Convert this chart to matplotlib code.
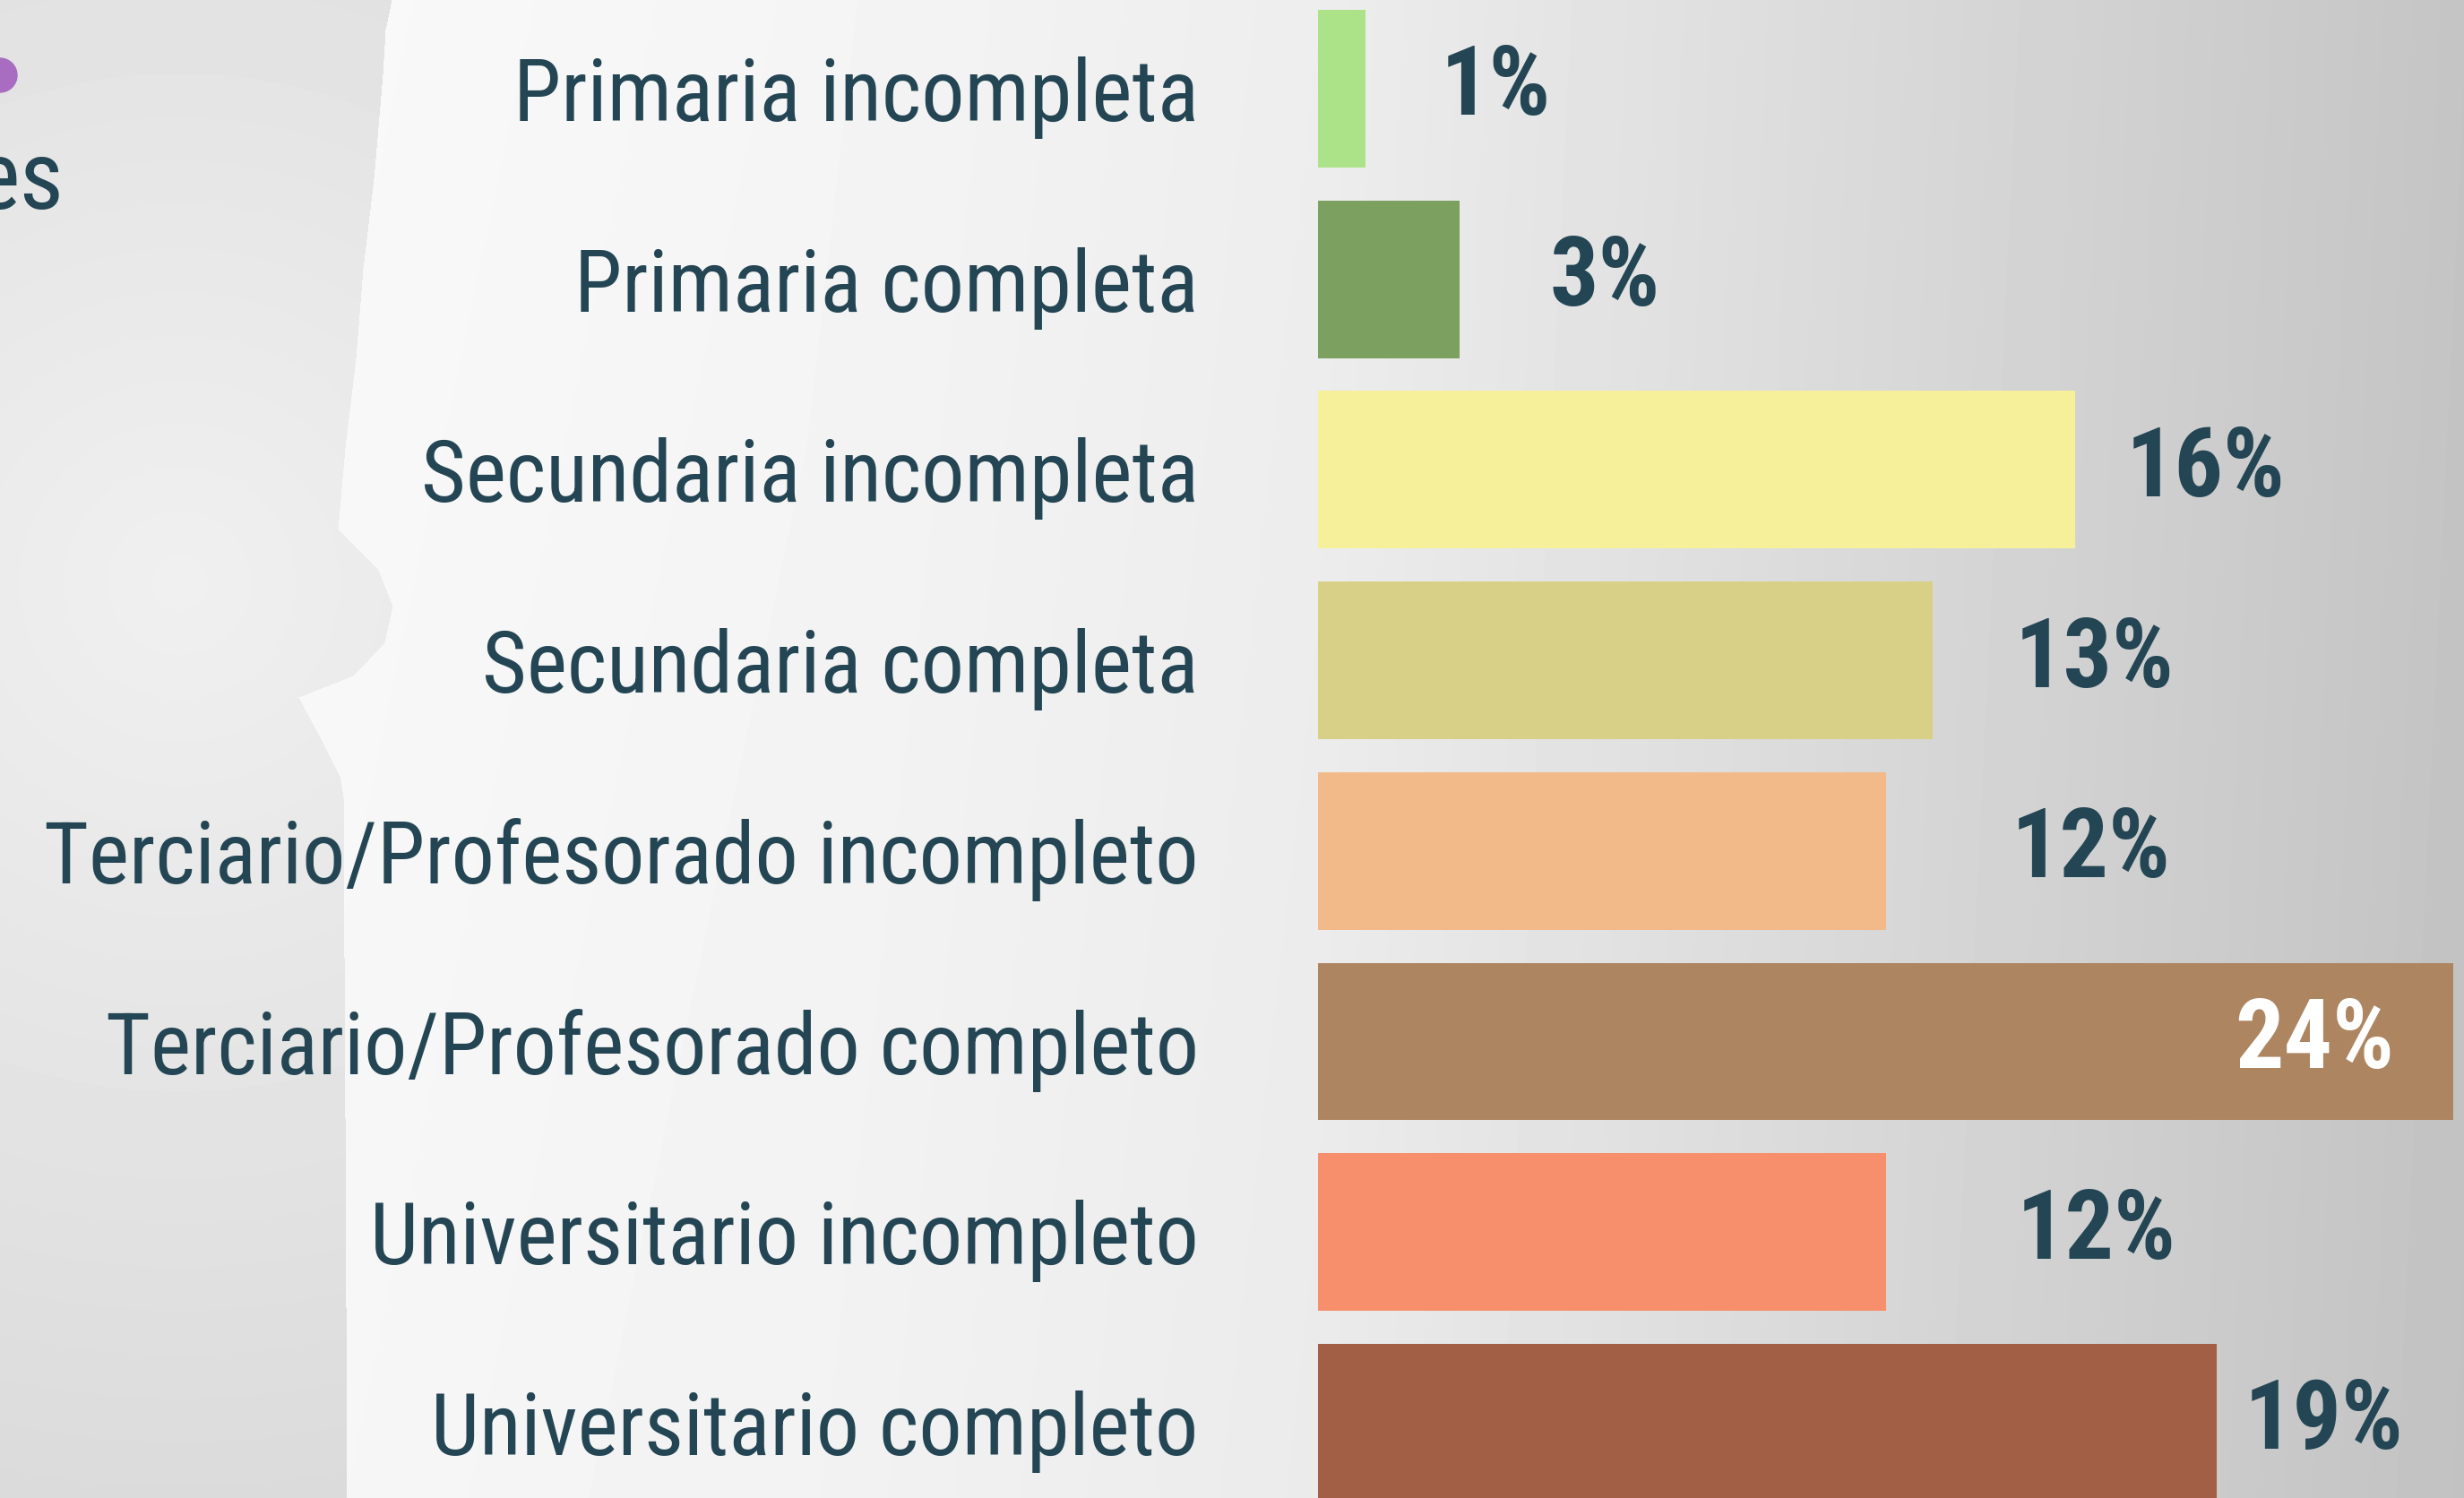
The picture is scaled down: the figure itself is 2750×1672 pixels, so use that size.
import numpy as np
import matplotlib
matplotlib.use('Agg')
import matplotlib.pyplot as plt
from matplotlib import font_manager
from matplotlib.patches import Circle

# data
categories = [
    'Primaria incompleta',
    'Primaria completa',
    'Secundaria incompleta',
    'Secundaria completa',
    'Terciario/Profesorado incompleto',
    'Terciario/Profesorado completo',
    'Universitario incompleto',
    'Universitario completo',
]
values = [1, 3, 16, 13, 12, 24, 12, 19]
value_labels = [f'{v}%' for v in values]

# styles
bar_colors = ['#ade388', '#7ba05f', '#f7f09b', '#d8d086',
              '#f1ba88', '#ad8661', '#f78f6c', '#a35f45']
label_gap = [1.58, 1.9, 1.08, 1.73, 2.66, -1.25, 2.77, 0.58]   # data units from bar end
TEXT = '#244654'


def pick_font(names):
    for n in names:
        try:
            font_manager.findfont(font_manager.FontProperties(family=n),
                                  fallback_to_default=False)
            return n
        except Exception:
            pass
    return 'DejaVu Sans'


NARROW = pick_font(['Liberation Sans Narrow', 'DejaVu Sans Condensed',
                    'Roboto Condensed', 'Open Sans Condensed', 'Roboto'])
FONT = [NARROW, 'DejaVu Sans']

W, H = 2750, 1672
DPI = 100

fig = plt.figure(figsize=(W / DPI, H / DPI), dpi=DPI)
renderer = fig.canvas.get_renderer()

# background: grey slide with a white head silhouette on the left
bg_ax = fig.add_axes([0, 0, 1, 1])
yy, xx = np.mgrid[0:H, 0:W]
edge_y = [0, 33, 83, 200, 300, 400, 500, 590, 634, 676, 717, 754, 778, 821, 866, 889, 1247, 1672]
edge_x = [437, 430, 427, 417, 405, 397, 385, 377, 421, 438, 429, 394, 333, 356, 379, 383, 385, 387]
xe = np.interp(np.arange(H), edge_y, edge_x)
inside = xx >= xe[:, None]
right = np.interp(xx, [380, 900, 1470, 2750], [0.975, 0.96, 0.93, 0.77]) - 0.01 * yy / H
left = 0.94 - 0.00008 * np.hypot(xx - 200, yy - 650)
bg = np.where(inside, right, left)
bg_ax.imshow(bg, cmap='gray', vmin=0, vmax=1, extent=(0, W, H, 0),
             aspect='auto', interpolation='bilinear')
bg_ax.set_xlim(0, W)
bg_ax.set_ylim(H, 0)
bg_ax.axis('off')
del yy, xx

# bars: x=0 sits at 1471 px, 52.8 px per percent
x0 = 1471 / W
ax = fig.add_axes([x0, 0, 1 - x0, 1])
ax.patch.set_alpha(0)
ypos = np.arange(len(categories))
ax.barh(ypos, values, height=0.827, color=bar_colors)
ax.set_xlim(0, (W - 1471) / 52.8)
ax.set_ylim((H - 99) / 212.7, -99 / 212.7)


def fit_size(txt, target_px, weight='normal', base=60):
    t = fig.text(0, 0, txt, fontsize=base, family=FONT, fontweight=weight)
    w = t.get_window_extent(renderer).width
    t.remove()
    return base * target_px / w


cat_size = fit_size('Terciario/Profesorado incompleto', 1290)
val_size = fit_size('13%', 178, weight='bold')
es_size = fit_size('es', 100)

# cut-off bits of the slide title
bg_ax.add_patch(Circle((0, 84), 19, color='#a86cc1', clip_on=False))
bg_ax.text(72, 233, 'es', ha='right', va='baseline', fontsize=es_size,
           color=TEXT, family=FONT)

for y, v, lab, gap in zip(ypos, values, value_labels, label_gap):
    inside_bar = gap < 0
    ax.text(v + gap, y, lab, ha='right' if inside_bar else 'left', va='center',
            fontsize=val_size, fontweight='bold', family=FONT,
            color='white' if inside_bar else TEXT)

ax.set_yticks(ypos)
ax.set_yticklabels(categories, family=FONT, fontsize=cat_size, color=TEXT)
ax.tick_params(axis='y', length=0, pad=96)
ax.set_xticks([])
for s in ax.spines.values():
    s.set_visible(False)

fig.savefig('out.png', dpi=DPI)
